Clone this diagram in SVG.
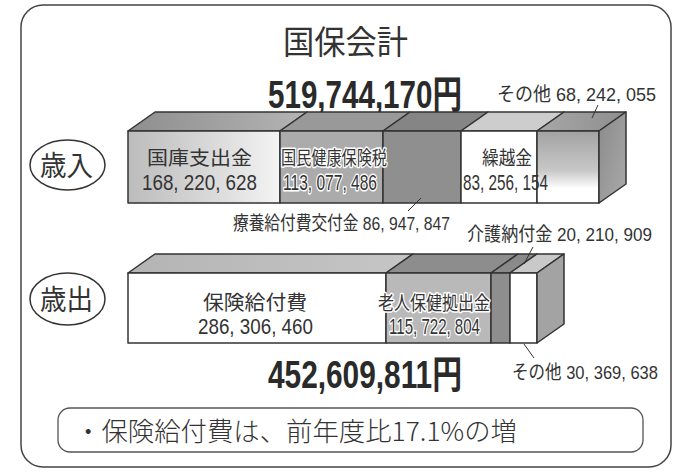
<svg xmlns="http://www.w3.org/2000/svg" width="691" height="473" viewBox="0 0 691 473">
<defs>
<style>
.jp{font-family:"Noto Sans CJK JP","Liberation Sans",sans-serif;fill:#333;}
.num{font-family:"Liberation Sans","Noto Sans CJK JP",sans-serif;fill:#333;}
.big{font-family:"Liberation Sans","Noto Sans CJK JP",sans-serif;font-weight:bold;fill:#2a2a2a;font-size:29.5px;}
.halo{paint-order:stroke;stroke:#fff;stroke-width:3px;stroke-linejoin:round;}
.edge{stroke:#333;stroke-width:1.5;stroke-linejoin:round;}
.lead{stroke:#333;stroke-width:1;fill:none;}
</style>
<linearGradient id="gKokkoF" x1="0" y1="0" x2="1" y2="0"><stop offset="0" stop-color="#bcbcbc"/><stop offset="0.6" stop-color="#dcdcdc"/><stop offset="1" stop-color="#f4f4f4"/></linearGradient>
<linearGradient id="gKokkoT" x1="0" y1="0" x2="1" y2="0"><stop offset="0" stop-color="#8e8e8e"/><stop offset="1" stop-color="#b4b4b4"/></linearGradient>
<linearGradient id="gSonotaF" x1="0" y1="0" x2="0" y2="1"><stop offset="0" stop-color="#a2a2a2"/><stop offset="0.55" stop-color="#c8c8c8"/><stop offset="0.8" stop-color="#fff"/><stop offset="1" stop-color="#fff"/></linearGradient>
<linearGradient id="gSonotaT" x1="0" y1="0" x2="1" y2="0"><stop offset="0" stop-color="#a8a8a8"/><stop offset="1" stop-color="#8e8e8e"/></linearGradient>
<linearGradient id="gSideIn" x1="0" y1="0" x2="1" y2="1"><stop offset="0" stop-color="#8a8a8a"/><stop offset="1" stop-color="#aaaaaa"/></linearGradient>
<linearGradient id="gHokenT" x1="0" y1="0" x2="1" y2="0"><stop offset="0" stop-color="#b4b4b4"/><stop offset="1" stop-color="#c6c6c6"/></linearGradient>
</defs>

<g id="frame">
<rect x="21" y="5" width="650" height="462" rx="22" fill="#fff" stroke="#444" stroke-width="1.5"/>
</g>

<g id="title">
<text class="jp" x="283" y="54" font-size="33" textLength="125" lengthAdjust="spacingAndGlyphs">国保会計</text>
</g>

<g id="total-revenue">
<text class="big" transform="translate(268,108) scale(1,1.3)" x="0" y="0" textLength="194" lengthAdjust="spacingAndGlyphs">519,744,170円</text>
</g>

<g id="label-revenue">
<ellipse cx="67.5" cy="165" rx="37.5" ry="25" fill="#fff" stroke="#333" stroke-width="1.5"/>
<text class="jp" x="40" y="176" font-size="28" textLength="53" lengthAdjust="spacingAndGlyphs">歳入</text>
</g>

<!-- Revenue bar shapes: front y 131-203, depth dx 27 dy -19 -->
<g id="rev-kokko">
<polygon class="edge" points="128,131 155,112 307,112 280,131" fill="url(#gKokkoT)"/>
<rect class="edge" x="128" y="131" width="152" height="72" fill="url(#gKokkoF)"/>
</g>
<g id="rev-kokuho">
<polygon class="edge" points="280,131 307,112 410,112 383,131" fill="#999"/>
<rect class="edge" x="280" y="131" width="103" height="72" fill="#ababab"/>
</g>
<g id="rev-ryoyo">
<polygon class="edge" points="383,131 410,112 488,112 461,131" fill="#858585"/>
<rect class="edge" x="383" y="131" width="78" height="72" fill="#8f8f8f"/>
</g>
<g id="rev-kurikoshi">
<polygon class="edge" points="461,131 488,112 564,112 537,131" fill="#cdcdcd"/>
<rect class="edge" x="461" y="131" width="76" height="72" fill="#fff"/>
</g>
<g id="rev-sonota">
<polygon class="edge" points="537,131 564,112 626,112 599,131" fill="url(#gSonotaT)"/>
<rect class="edge" x="537" y="131" width="62" height="72" fill="url(#gSonotaF)"/>
<polygon class="edge" points="599,131 626,112 626,184 599,203" fill="url(#gSideIn)"/>
</g>

<g id="label-expense">
<ellipse cx="67.5" cy="299" rx="37.5" ry="26" fill="#fff" stroke="#333" stroke-width="1.5"/>
<text class="jp" x="40" y="310" font-size="28" textLength="53" lengthAdjust="spacingAndGlyphs">歳出</text>
</g>

<!-- Expense bar shapes: front y 273-343 -->
<g id="exp-hoken">
<polygon class="edge" points="128,273 155,254 413,254 386,273" fill="url(#gHokenT)"/>
<rect class="edge" x="128" y="273" width="258" height="70" fill="#fff"/>
</g>
<g id="exp-rojin">
<polygon class="edge" points="386,273 413,254 518,254 491,273" fill="#8d8d8d"/>
<rect class="edge" x="386" y="273" width="105" height="70" fill="#b9b9b9"/>
</g>
<g id="exp-kaigo">
<polygon class="edge" points="491,273 518,254 537,254 510,273" fill="#8a8a8a"/>
<rect class="edge" x="491" y="273" width="19" height="70" fill="#8e8e8e"/>
</g>
<g id="exp-sonota">
<polygon class="edge" points="510,273 537,254 564,254 537,273" fill="#c9c9c9"/>
<rect class="edge" x="510" y="273" width="27" height="70" fill="#fff"/>
<polygon class="edge" points="537,273 564,254 564,324 537,343" fill="#a3a3a3"/>
</g>

<g id="connectors">
<line class="lead" x1="598" y1="105" x2="592" y2="118"/>
<line class="lead" x1="408" y1="211" x2="421" y2="198"/>
<line class="lead" x1="533" y1="247" x2="524" y2="264"/>
<line class="lead" x1="524" y1="344" x2="534" y2="358"/>
</g>

<!-- Segment labels (drawn above the bar shapes) -->
<g id="rev-kokko-label">
<text class="jp" x="147" y="165" font-size="19" textLength="105" lengthAdjust="spacingAndGlyphs">国庫支出金</text>
<text class="num" x="142" y="190" font-size="22" textLength="115" lengthAdjust="spacingAndGlyphs">168, 220, 628</text>
</g>
<g id="rev-kokuho-label">
<text class="jp halo" x="281" y="165" font-size="19" textLength="106" lengthAdjust="spacingAndGlyphs">国民健康保険税</text>
<text class="num halo" x="283" y="190" font-size="22" textLength="94" lengthAdjust="spacingAndGlyphs">113, 077, 486</text>
</g>
<g id="rev-kurikoshi-label">
<text class="jp" x="482" y="165" font-size="19" textLength="50" lengthAdjust="spacingAndGlyphs">繰越金</text>
<text class="num" x="463" y="190" font-size="22" textLength="85" lengthAdjust="spacingAndGlyphs">83, 256, 154</text>
</g>
<g id="label-ryoyo">
<text class="num" x="233" y="230" font-size="19" textLength="217" lengthAdjust="spacingAndGlyphs">療養給付費交付金 86, 947, 847</text>
</g>
<g id="label-rev-sonota">
<text class="num" x="497" y="101" font-size="19" textLength="159" lengthAdjust="spacingAndGlyphs">その他 68, 242, 055</text>
</g>
<g id="exp-hoken-label">
<text class="jp" x="203" y="310" font-size="20" textLength="104" lengthAdjust="spacingAndGlyphs">保険給付費</text>
<text class="num" x="198" y="334" font-size="22" textLength="115" lengthAdjust="spacingAndGlyphs">286, 306, 460</text>
</g>
<g id="exp-rojin-label">
<text class="jp halo" x="378" y="310" font-size="19" textLength="112" lengthAdjust="spacingAndGlyphs">老人保健拠出金</text>
<text class="num halo" x="389" y="334" font-size="22" textLength="91" lengthAdjust="spacingAndGlyphs">115, 722, 804</text>
</g>
<g id="label-kaigo">
<text class="num" x="467" y="241" font-size="19" textLength="185" lengthAdjust="spacingAndGlyphs">介護納付金 20, 210, 909</text>
</g>
<g id="total-expense">
<text class="big" transform="translate(268,388) scale(1,1.3)" x="0" y="0" textLength="194" lengthAdjust="spacingAndGlyphs">452,609,811円</text>
</g>
<g id="label-exp-sonota">
<text class="num" x="512" y="379" font-size="19" textLength="146" lengthAdjust="spacingAndGlyphs">その他 30, 369, 638</text>
</g>

<g id="note">
<rect x="58" y="408" width="585" height="44" rx="12" fill="#fff" stroke="#555" stroke-width="1.3"/>
<text class="jp" x="75" y="441" font-size="26" font-weight="300" fill="#444" textLength="442" lengthAdjust="spacingAndGlyphs">・保険給付費は、前年度比17.1%の増</text>
</g>
</svg>
